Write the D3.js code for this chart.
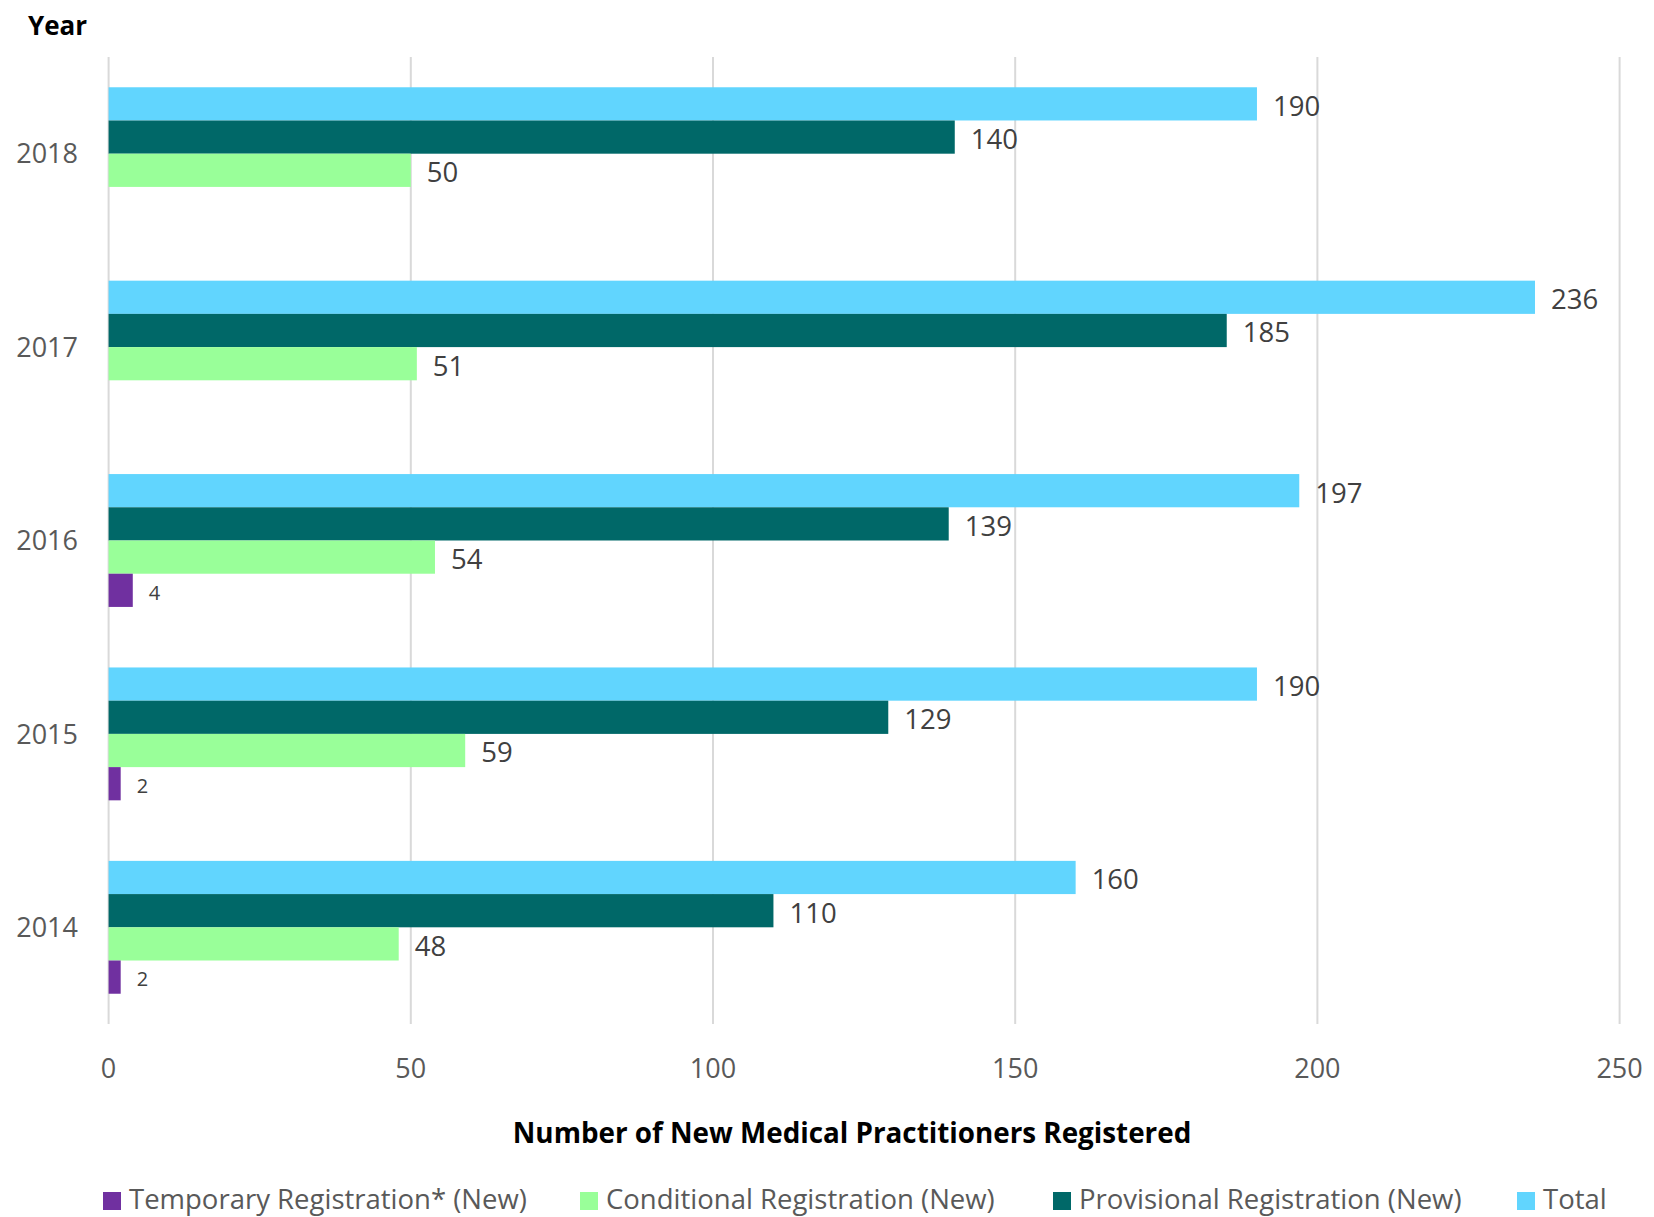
<!DOCTYPE html>
<html>
<head>
<meta charset="utf-8">
<script src="https://cdn.jsdelivr.net/npm/d3@7"></script>
<style>
  html, body { margin: 0; padding: 0; background: #fff; }
  svg { display: block; font-family: "Open Sans", "Noto Sans", sans-serif; }
</style>
</head>
<body>
<svg id="chart" width="1654" height="1217"></svg>
<script>
// Registration counts per year (years listed top to bottom)
const years = ["2018", "2017", "2016", "2015", "2014"];
const seriesNames = ["Total", "Provisional Registration (New)", "Conditional Registration (New)", "Temporary Registration* (New)"];
const totalValues       = [190, 236, 197, 190, 160];
const provisionalValues = [140, 185, 139, 129, 110];
const conditionalValues = [50, 51, 54, 59, 48];
const temporaryValues   = [null, null, 4, 2, 2];
const xTicks = [0, 50, 100, 150, 200, 250];
const legendOrder = ["Temporary Registration* (New)", "Conditional Registration (New)", "Provisional Registration (New)", "Total"];
const colors = {
  "Total": "#61D5FE",
  "Provisional Registration (New)": "#006868",
  "Conditional Registration (New)": "#99FF99",
  "Temporary Registration* (New)": "#7030A0"
};

const valuesBySeries = {
  "Total": totalValues,
  "Provisional Registration (New)": provisionalValues,
  "Conditional Registration (New)": conditionalValues,
  "Temporary Registration* (New)": temporaryValues
};

const svg = d3.select("#chart");

const x = d3.scaleLinear().domain([0, 250]).range([108.6, 1619.6]);
const y = d3.scaleBand().domain(years).range([57, 1024]).paddingInner(0.313).paddingOuter(0.1565);
const ySub = d3.scaleBand().domain(seriesNames).range([0, y.bandwidth()]).padding(0);

// vertical gridlines
svg.append("g").selectAll("line").data(xTicks).join("line")
  .attr("x1", d => x(d)).attr("x2", d => x(d))
  .attr("y1", 57).attr("y2", 1024)
  .attr("stroke", "#D9D9D9").attr("stroke-width", 2);

// x tick labels
svg.append("g").selectAll("text").data(xTicks).join("text")
  .attr("x", d => x(d)).attr("y", 1078)
  .attr("text-anchor", "middle")
  .attr("font-size", 27).attr("fill", "#595959")
  .text(d => d);

// year labels
svg.append("g").selectAll("text").data(years).join("text")
  .attr("x", 78).attr("y", d => y(d) + y.bandwidth() / 2)
  .attr("dy", "0.36em")
  .attr("text-anchor", "end")
  .attr("font-size", 27).attr("fill", "#595959")
  .text(d => d);

// bars + value labels
const rows = [];
years.forEach((yr, i) => {
  seriesNames.forEach(s => {
    const v = valuesBySeries[s][i];
    if (v != null) rows.push({ year: yr, series: s, value: v });
  });
});

svg.append("g").selectAll("rect").data(rows).join("rect")
  .attr("x", x(0))
  .attr("y", d => y(d.year) + ySub(d.series))
  .attr("width", d => x(d.value) - x(0))
  .attr("height", ySub.bandwidth())
  .attr("fill", d => colors[d.series]);

svg.append("g").selectAll("text").data(rows).join("text")
  .attr("x", d => x(d.value) + 16)
  .attr("y", d => y(d.year) + ySub(d.series) + ySub.bandwidth() / 2 + 2)
  .attr("dy", "0.36em")
  .attr("font-size", d => d.series.startsWith("Temporary") ? 20 : 27.5)
  .attr("fill", "#404040")
  .text(d => d.value);

// axis titles
svg.append("text")
  .attr("x", 28).attr("y", 35)
  .attr("font-size", 26).attr("font-weight", "bold").attr("fill", "#000")
  .text("Year");

svg.append("text")
  .attr("x", 852).attr("y", 1143)
  .attr("text-anchor", "middle")
  .attr("font-size", 27.8).attr("font-weight", "bold").attr("fill", "#000")
  .text("Number of New Medical Practitioners Registered");

// legend
const legendX = [103, 580, 1053, 1517];
const legend = svg.append("g").selectAll("g").data(legendOrder).join("g")
  .attr("transform", (d, i) => `translate(${legendX[i]},1192)`);
legend.append("rect").attr("width", 18).attr("height", 18).attr("fill", d => colors[d]);
legend.append("text").attr("x", 26).attr("y", 17)
  .attr("font-size", 27.5).attr("fill", "#595959")
  .text(d => d);
</script>
</body>
</html>
